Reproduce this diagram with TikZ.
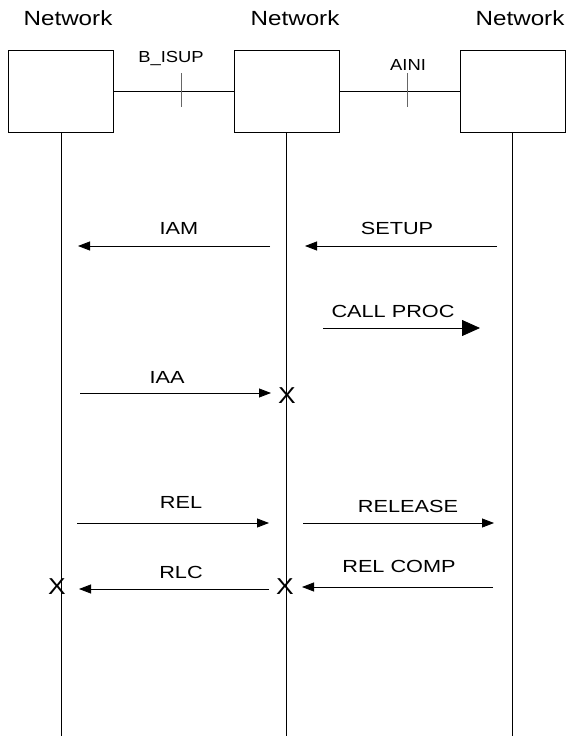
\documentclass[tikz,border=0pt]{standalone}
\usepackage{fontspec}
\setmainfont{Liberation Sans}
\usetikzlibrary{arrows.meta}
\begin{document}
\begin{tikzpicture}[x=1pt,y=-1pt,
  box/.style={draw, line width=0.6pt, minimum width=105pt, minimum height=82pt, inner sep=0pt},
  title/.style={font=\fontsize{20.5}{24}\selectfont, anchor=base, inner sep=0pt, xscale=1.18},
  ifl/.style={font=\fontsize{16}{19}\selectfont, anchor=base, inner sep=0pt, xscale=1.15},
  lbl/.style={font=\fontsize{17.5}{20}\selectfont, anchor=base, inner sep=0pt, xscale=1.24},
  xmark/.style={font=\fontsize{23}{24}\selectfont, inner sep=0pt, xscale=1.15},
  life/.style={line width=0.6pt},
  link/.style={line width=0.6pt},
  tick/.style={line width=0.6pt, draw=black!60},
  msg/.style={line width=0.8pt, -{Triangle[length=12pt,width=9pt]}},
  bigmsg/.style={line width=0.8pt, -{Triangle[length=18pt,width=16pt]}}
]
\useasboundingbox (0,0) rectangle (566,736);

% titles
\node[title] (t1) at (68,25) {Network};
\node[title] (t2) at (295,25) {Network};
\node[title] (t3) at (520,25) {Network};

% boxes
\node[box] (A) at (61,91) {};
\node[box] (B) at (286.5,91) {};
\node[box] (C) at (512.5,91) {};

% lifelines
\coordinate (Ae) at (61,736);
\coordinate (Be) at (286.5,736);
\coordinate (Ce) at (512.5,736);
\draw[life] (A.south) -- (Ae);
\draw[life] (B.south) -- (Be);
\draw[life] (C.south) -- (Ce);

% links
\draw[link] (A) -- (B);
\draw[link] (B) -- (C);
\coordinate (k1a) at (181.7,73);
\coordinate (k1b) at (181.7,107);
\coordinate (k2a) at (407.7,73);
\coordinate (k2b) at (407.7,107);
\draw[tick] (k1a) -- (k1b);
\draw[tick] (k2a) -- (k2b);
\node[ifl] (l1) at (171,62) {B\_ISUP};
\node[ifl] (l2) at (408,70) {AINI};

% IAM / SETUP
\coordinate (iam1) at (270,246);
\coordinate (iam2) at (78,246);
\draw[msg] (iam1) -- (iam2);
\node[lbl] (iam) at (179,234) {IAM};
\coordinate (set1) at (497,246);
\coordinate (set2) at (305,246);
\draw[msg] (set1) -- (set2);
\node[lbl] (setup) at (397,234) {SETUP};

% CALL PROC
\coordinate (cp1) at (323,328);
\coordinate (cp2) at (480,328);
\draw[bigmsg] (cp1) -- (cp2);
\node[lbl] (cp) at (393,317) {CALL PROC};

% IAA
\coordinate (iaa1) at (80,393);
\coordinate (iaa2) at (271,393);
\draw[msg] (iaa1) -- (iaa2);
\node[lbl] (iaa) at (167,383) {IAA};
\node[xmark] (x1) at (287,396) {X};

% REL / RELEASE
\coordinate (rel1) at (77,523);
\coordinate (rel2) at (269,523);
\draw[msg] (rel1) -- (rel2);
\node[lbl] (rel) at (181,508) {REL};
\coordinate (rls1) at (303,523);
\coordinate (rls2) at (494,523);
\draw[msg] (rls1) -- (rls2);
\node[lbl] (rls) at (408,512) {RELEASE};

% RLC / REL COMP
\coordinate (rlc1) at (269,589);
\coordinate (rlc2) at (79,589);
\draw[msg] (rlc1) -- (rlc2);
\node[lbl] (rlc) at (181,578) {RLC};
\node[xmark] (x2) at (57,587) {X};
\coordinate (rc1) at (493,587);
\coordinate (rc2) at (302,587);
\draw[msg] (rc1) -- (rc2);
\node[lbl] (rc) at (399,572) {REL COMP};
\node[xmark] (x3) at (285,587) {X};
\end{tikzpicture}
\end{document}
